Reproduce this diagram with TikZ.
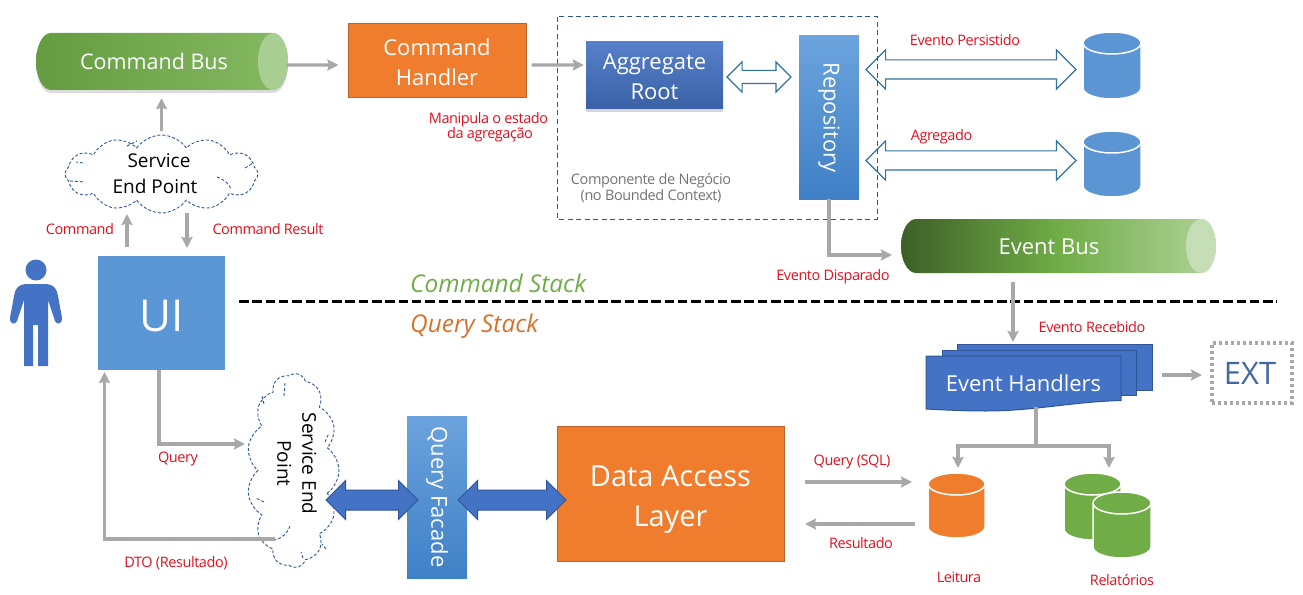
\documentclass[tikz,border=0pt]{standalone}
\usepackage{fontspec}
\usetikzlibrary{arrows.meta,shapes.geometric,shapes.symbols,shapes.arrows,positioning,calc}
\setmainfont{Open Sans}
\newfontfamily\labfont[LetterSpace=-3]{Open Sans}
\definecolor{flowgray}{HTML}{A8A8A8}
\definecolor{labred}{HTML}{E0101E}
\definecolor{boxorange}{HTML}{F07D2E}
\definecolor{edgeorange}{HTML}{B9652C}
\definecolor{uiblue}{HTML}{5B96D5}
\definecolor{royal}{HTML}{4472C4}
\definecolor{royaledge}{HTML}{2F5597}
\definecolor{dbblue}{HTML}{5B95D3}
\definecolor{dbgreen}{HTML}{70AD47}
\definecolor{facadetop}{HTML}{6BA3DD}
\definecolor{facadebot}{HTML}{3F80C6}
\definecolor{hollowedge}{HTML}{31739F}
\newcommand{\fs}[1]{\fontsize{#1bp}{#1bp}\selectfont}
\newcommand{\dbcyl}[6]{% name, left, right, top, bottom, colour
  \draw[dbshape,fill=#6] (#2,#4+11) -- (#2,#5-11) arc[x radius=(#3-#2)/2,y radius=11,start angle=180,end angle=0] -- (#3,#4+11) arc[x radius=(#3-#2)/2,y radius=11,start angle=0,end angle=-180] -- cycle;
  \draw[dbshape] (#2,#4+11) arc[x radius=(#3-#2)/2,y radius=11,start angle=180,end angle=0];
  \node[inner sep=0pt,minimum width=#3-#2,minimum height=#5-#4] (#1) at ({(#2+#3)/2},{(#4+#5)/2}) {};
}
\tikzset{
  flow/.style={draw=flowgray,line width=3.2bp,-{Stealth[length=11bp,width=11bp,inset=1.5bp]}},
  flowplain/.style={draw=flowgray,line width=3.2bp},
  lab/.style={text=labred,font=\labfont\fs{14.5},align=center,inner sep=0pt},
  whitetext/.style={text=white,align=center,inner sep=0pt},
  orangebox/.style={draw=edgeorange,line width=1bp,fill=boxorange,text=white,align=center,inner sep=0pt},
  facade/.style={top color=facadetop,bottom color=facadebot,text=white,inner sep=0pt,align=center,rotate=-90},
  endpoint/.style={shape=cloud,draw=royaledge,dash pattern=on 3bp off 2bp,line width=.9bp,cloud ignores aspect,inner sep=0pt,align=center,text=black},
  curl/.style={draw=royaledge,dash pattern=on 3bp off 2bp,line width=.9bp},
  hollowarrow/.style={shape=double arrow,draw=hollowedge,fill=white,line width=1.2bp,double arrow tip angle=90,double arrow head indent=0pt,inner xsep=0pt,text width=0pt},
  solidarrow/.style={shape=double arrow,draw=royaledge,fill=royal,line width=1bp,double arrow tip angle=90,double arrow head indent=0pt,inner xsep=0pt,text width=0pt},
  dbshape/.style={draw=white,line width=1.5bp},
  sheet/.style={draw=royaledge,fill=royal,line width=1bp},
  stacklab/.style={font=\itshape\fs{24.4},inner sep=0pt},
}
\begin{document}
\begin{tikzpicture}[x=1bp,y=-1bp]
\useasboundingbox (0,0) rectangle (1303,595);

% Command bus
\fill[black!30,opacity=.45] (51,36) -- (273,36) arc[x radius=15,y radius=28.5,start angle=-90,end angle=90] -- (51,93) arc[x radius=15,y radius=28.5,start angle=90,end angle=270] -- cycle;
\shade[left color=dbgreen!90!black,right color=dbgreen!85!white] (51,33) -- (273,33) arc[x radius=15,y radius=28.5,start angle=-90,end angle=90] -- (51,90) arc[x radius=15,y radius=28.5,start angle=90,end angle=270] -- cycle;
\fill[color=dbgreen!60!white] (273,61.5) ellipse[x radius=15,y radius=28.5];
\node[whitetext,font=\fs{21.5},minimum width=252bp,minimum height=57bp] (cmdbus) at (154,61.5) {Command Bus};

% Command handler
\node[orangebox,font=\fs{22},minimum width=178bp,minimum height=74bp] (handler) at (437,61) {\rule{0pt}{19bp}Command\\[8bp]Handler};

% Aggregate root
\fill[black!35,opacity=.45] (586,45) rectangle (723,112);
\node[shade,top color=royal!90!white,bottom color=royal!85!black,whitetext,font=\fs{22},minimum width=137bp,minimum height=67bp] (aggregate) at (654.5,75.5) {\rule{0pt}{19bp}Aggregate\\[8bp]Root};

% Repository
\node[facade,font=\fs{22},minimum width=163bp,minimum height=60bp] (repo) at (829,117.5) {Repository};

% Hollow arrows
\node[hollowarrow,inner ysep=6bp,double arrow head extend=8.5bp,minimum height=64bp] (aggrepo) at (759,77) {};
\node[hollowarrow,inner ysep=9bp,double arrow head extend=10bp,minimum height=210bp] (persist) at (971,69.5) {};
\node[hollowarrow,inner ysep=9bp,double arrow head extend=10bp,minimum height=210bp] (agg) at (971,160.5) {};

% Business component box
\draw[royaledge,dash pattern=on 5bp off 3.5bp,line width=1bp] (557,17) rectangle (877,219);

% Blue databases
\dbcyl{dbevents}{1083}{1141}{32}{99}{dbblue}
\dbcyl{dbagg}{1083}{1141}{131}{197}{dbblue}

% Event bus
\shade[left color=dbgreen!55!black,right color=dbgreen!55!white,middle color=dbgreen] (916,219) -- (1201,219) arc[x radius=15,y radius=27,start angle=-90,end angle=90] -- (916,273) arc[x radius=15,y radius=27,start angle=90,end angle=270] -- cycle;
\fill[color=dbgreen!40!white] (1201,246) ellipse[x radius=15,y radius=27];
\node[whitetext,font=\fs{22},minimum width=315bp,minimum height=54bp] (eventbus) at (1049,247) {Event Bus};

% Stack separator
\coordinate (sepL) at (239,301);
\coordinate (sepR) at (1277,301);
\draw[black,line width=3bp,dash pattern=on 9.5bp off 3.8bp] (sepL) -- (sepR);
\node[stacklab,text=dbgreen,anchor=west] (cmdstack) at (410,283) {Command Stack};
\node[stacklab,text=boxorange!90!black,anchor=west] (qrystack) at (410,326) {Query Stack};

% Person
\fill[royal] (36,270) circle[radius=10.5];
\fill[royal] (25,284) -- (47,284) .. controls (54,285) and (57,289) .. (58,296) -- (62,318) .. controls (63,323) and (57,326) .. (55,321) -- (48,300) -- (48,366) -- (38,366) -- (38,325) -- (33,325) -- (33,366) -- (24,366) -- (24,300) -- (17,321) .. controls (15,326) and (9,323) .. (10,318) -- (14,296) .. controls (15,289) and (18,285) .. (25,284) -- cycle;

% UI
\node[fill=uiblue,text=white,font=\fs{44},minimum width=127bp,minimum height=114bp,inner sep=0pt] (ui) at (161.5,312.5) {\rule{0pt}{38bp}UI};

% Clouds
\node[endpoint,font=\fs{19},minimum width=193bp,minimum height=78bp,cloud puffs=12,cloud puff arc=110] (sep1) at (161.5,174) {\hspace*{-5bp}Service\\[7bp]End Point\hspace*{13bp}};
\draw[curl] (127,146) -- (137,141);
\draw[curl] (83,163) -- (76,162);
\draw[curl] (70,181) -- (85,182);
\draw[curl] (217,177) .. controls (225,180) and (229,184) .. (231,189);
\draw[curl] (245,168) -- (253,163);
\node[endpoint,font=\fs{19},rotate=-90,minimum width=194bp,minimum height=92bp,cloud puffs=13,cloud puff arc=110] (sep2) at (293,470.5) {\hspace*{6bp}Service End\hspace*{20bp}\\[6bp]Point\hspace*{14bp}\rule[-8bp]{0pt}{0pt}};
\draw[curl] (284,396) -- (285,383);
\draw[curl] (264,404) -- (262,396);
\draw[curl] (325,442) -- (329,433);
\draw[curl] (264,502) -- (256,498);
\draw[curl] (290,526) .. controls (287,534) and (282,538) .. (275,540);
\draw[curl] (303,558) -- (301,552);
\draw[curl] (326,549) -- (322,544);

% Query facade and data access
\node[facade,font=\fs{22},minimum width=162bp,minimum height=60bp] (facade) at (437,497) {Query Facade};
\node[orangebox,font=\fs{29},minimum width=227bp,minimum height=135bp] (dal) at (670.5,493.5) {\rule{0pt}{32bp}Data Access\\[11bp]Layer};

% Solid arrows
\node[solidarrow,inner ysep=9.5bp,double arrow head extend=9.5bp,minimum height=92bp] (sepfacade) at (372,500) {};
\node[solidarrow,inner ysep=9.5bp,double arrow head extend=9.5bp,minimum height=108bp] (facadedal) at (512,500) {};

% Event handlers
\draw[sheet] (957,344) -- (1152,344) -- (1152,390) -- (957,390) -- cycle;
\draw[sheet] (942,350) -- (1136,350) -- (1136,395) -- (942,395) -- cycle;
\draw[sheet] (926,356) -- (1121,356) -- (1121,400.5) .. controls (1070,402) and (1035,411) .. (985,411) .. controls (965,411) and (945,410) .. (926,409) -- cycle;
\node[text=white,font=\fs{22},inner sep=0pt,minimum width=195bp,minimum height=50bp] (handlers) at (1023.5,383) {Event Handlers};

% EXT
\node[draw=flowgray,line width=3.4bp,dash pattern=on 3bp off 3bp,text=royaledge!90!white,font=\fs{31},inner sep=0pt,minimum width=80bp,minimum height=60bp] (ext) at (1252,373) {\hspace*{-4bp}EXT};

% Read and report databases
\dbcyl{dbread}{928}{985}{473}{538}{boxorange}
\dbcyl{dbrep1}{1064}{1121}{473}{540}{dbgreen}
\dbcyl{dbrep2}{1093}{1151}{492}{558}{dbgreen}

% Connectors
\draw[flow] ([xshift=6bp,yshift=-3.5bp]cmdbus.east) -- ([xshift=-9bp,yshift=-4bp]handler.west);
\draw[flow] ([xshift=5bp,yshift=-4bp]handler.east) -- ([xshift=-2bp,yshift=10.5bp]aggregate.west);
\draw[flow] ([yshift=4bp]sep1.north) -- ([yshift=-8bp]sep1.north |- cmdbus.south);
\coordinate (cmdup) at (127,247);
\coordinate (cmdupend) at (127,214);
\coordinate (resdown) at (187,213);
\coordinate (resdownend) at (187,248);
\draw[flow] (cmdup) -- (cmdupend);
\draw[flow] (resdown) -- (resdownend);
\coordinate (repodrop) at (829,199);
\coordinate (busin) at (892,255);
\draw[flow] (repodrop) |- (busin);
\coordinate (evbusout) at (1013,282);
\coordinate (ehin) at (1013,342);
\draw[flow] (evbusout) -- (ehin);
\coordinate (qstart) at (159,370);
\coordinate (qend) at (245,444);
\draw[flow] (qstart) |- (qend);
\coordinate (dtostart) at (275,539);
\coordinate (dtoend) at (104.5,372);
\draw[flow] (dtostart) -| (dtoend);
\coordinate (sqlstart) at (805,482);
\coordinate (sqlend) at (912,482);
\draw[flow] (sqlstart) -- (sqlend);
\coordinate (resstart) at (915,524);
\coordinate (resend) at (805,524);
\draw[flow] (resstart) -- (resend);
\coordinate (extstart) at (1162,375);
\coordinate (extend) at (1202,375);
\draw[flow] (extstart) -- (extend);
\coordinate (ehout) at (1036,407);
\coordinate (branch) at (1036,446);
\coordinate (readin) at (958,468);
\coordinate (repin) at (1109,468);
\draw[flowplain] (ehout) -- (branch);
\draw[flow] (branch) -| (readin);
\draw[flow] (branch) -| (repin);

% Labels
\node[lab] (lcmd) at (80,229) {Command};
\node[lab] (lres) at (268,229) {Command Result};
\node[lab] (lman) at (488.5,127) {Manipula o estado\\[1bp]\hspace*{3bp}da agregação};
\node[lab] (lper) at (965,40) {Evento Persistido};
\node[lab] (lagg) at (941.5,137) {Agregado};
\node[lab] (ldis) at (833,277) {Evento Disparado};
\node[lab] (lrec) at (1092,327) {Evento Recebido};
\node[lab] (lqry) at (178,459) {Query};
\node[lab] (ldto) at (176,563) {DTO (Resultado)};
\node[lab] (lsql) at (852,462) {Query (SQL)};
\node[lab] (lrsl) at (861,543) {Resultado};
\node[lab] (llei) at (959,577) {Leitura};
\node[lab] (lrel) at (1122,580) {Relatórios};
\node[lab,text=black!55] (lcomp) at (651,188) {Componente de Negócio\\[1bp](no Bounded Context)};
\end{tikzpicture}
\end{document}
